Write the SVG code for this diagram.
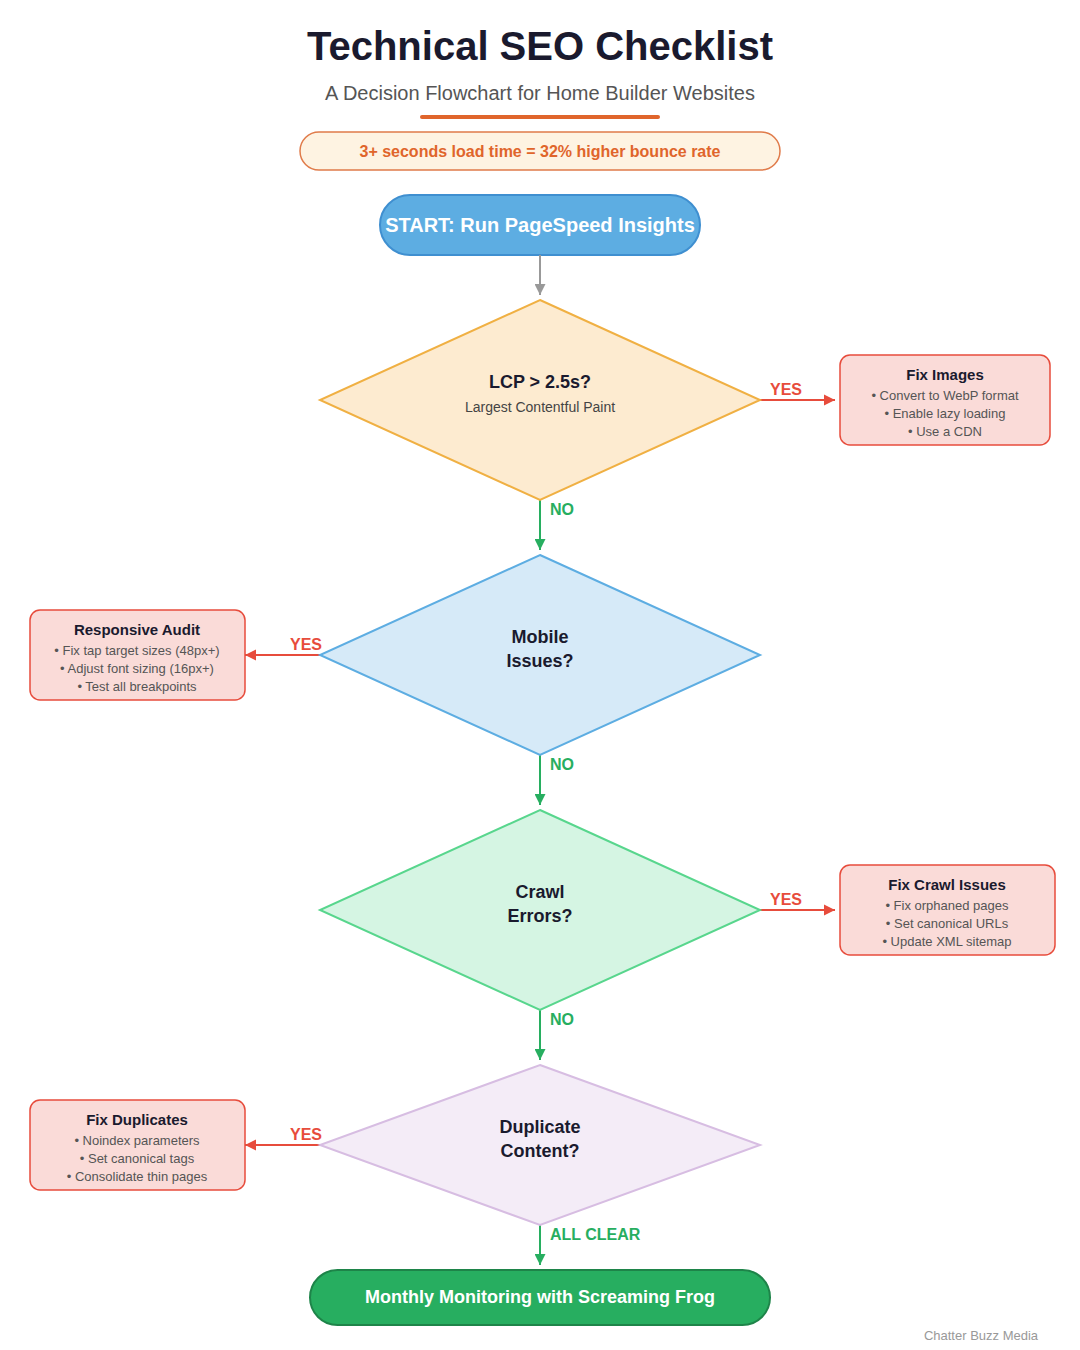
<svg xmlns="http://www.w3.org/2000/svg" width="1080" height="1350" viewBox="0 0 1080 1350">
<defs>
<marker id="ag" viewBox="0 0 10 10" refX="10" refY="5" markerWidth="12" markerHeight="11" markerUnits="userSpaceOnUse" orient="auto"><path d="M0,0 L10,5 L0,10 z" fill="#999999"/></marker>
<marker id="agr" viewBox="0 0 10 10" refX="10" refY="5" markerWidth="12" markerHeight="11" markerUnits="userSpaceOnUse" orient="auto"><path d="M0,0 L10,5 L0,10 z" fill="#27ae60"/></marker>
<marker id="ar" viewBox="0 0 10 10" refX="10" refY="5" markerWidth="11" markerHeight="12" markerUnits="userSpaceOnUse" orient="auto"><path d="M0,0 L10,5 L0,10 z" fill="#e74c3c"/></marker>
</defs>
<style>
text{font-family:"Liberation Sans",Arial,sans-serif;text-anchor:middle}
.box{fill:#fadbd8;stroke:#e74c3c;stroke-width:1.5}
.bt{font-size:15px;font-weight:bold;fill:#1a1a2e}
.bl{font-size:13px;fill:#555555}
.dt{font-size:18px;font-weight:bold;fill:#1a1a2e}
.yes{font-size:16px;font-weight:bold;fill:#e74c3c}
.no{font-size:16px;font-weight:bold;fill:#27ae60;text-anchor:start}
.red{stroke:#e74c3c;stroke-width:2;fill:none}
.grn{stroke:#27ae60;stroke-width:2;fill:none}
</style>
<rect width="1080" height="1350" fill="#ffffff"/>
<g id="header">
<text x="540" y="60" font-size="40" font-weight="bold" fill="#1a1a2e">Technical SEO Checklist</text>
<text x="540" y="100" font-size="20" fill="#555555">A Decision Flowchart for Home Builder Websites</text>
<line x1="422" y1="117" x2="658" y2="117" stroke="#e0652b" stroke-width="4" stroke-linecap="round"/>
</g>
<g id="stat">
<rect x="300" y="132" width="480" height="38" rx="19" fill="#fef3e2" stroke="#e07b4a" stroke-width="1.5"/>
<text x="540" y="157" font-size="16" font-weight="bold" fill="#e0652b">3+ seconds load time = 32% higher bounce rate</text>
</g>
<g id="start">
<rect x="380" y="195" width="320" height="60" rx="30" fill="#5dade2" stroke="#3f8fd0" stroke-width="2"/>
<text x="540" y="232" font-size="20" font-weight="bold" fill="#ffffff">START: Run PageSpeed Insights</text>
</g>
<g id="connectors">
<line x1="540" y1="255" x2="540" y2="295" stroke="#999999" stroke-width="2" marker-end="url(#ag)"/>
<line x1="760" y1="400" x2="835" y2="400" class="red" marker-end="url(#ar)"/>
<text x="786" y="395" class="yes">YES</text>
<line x1="540" y1="500" x2="540" y2="550" class="grn" marker-end="url(#agr)"/>
<text x="550" y="515" class="no">NO</text>
<line x1="320" y1="655" x2="245" y2="655" class="red" marker-end="url(#ar)"/>
<text x="306" y="650" class="yes">YES</text>
<line x1="540" y1="755" x2="540" y2="805" class="grn" marker-end="url(#agr)"/>
<text x="550" y="770" class="no">NO</text>
<line x1="760" y1="910" x2="835" y2="910" class="red" marker-end="url(#ar)"/>
<text x="786" y="905" class="yes">YES</text>
<line x1="540" y1="1010" x2="540" y2="1060" class="grn" marker-end="url(#agr)"/>
<text x="550" y="1025" class="no">NO</text>
<line x1="320" y1="1145" x2="245" y2="1145" class="red" marker-end="url(#ar)"/>
<text x="306" y="1140" class="yes">YES</text>
<line x1="540" y1="1225" x2="540" y2="1265" class="grn" marker-end="url(#agr)"/>
<text x="550" y="1240" class="no">ALL CLEAR</text>
</g>
<g id="lcp">
<polygon points="540,300 760,400 540,500 320,400" fill="#fdebd0" stroke="#f0b043" stroke-width="2"/>
<text x="540" y="388" class="dt">LCP &gt; 2.5s?</text>
<text x="540" y="412" font-size="14" fill="#444444">Largest Contentful Paint</text>
</g>
<g id="fix-images">
<rect x="840" y="355" width="210" height="90" rx="10" class="box"/>
<text x="945" y="380" class="bt">Fix Images</text>
<text x="945" y="400" class="bl">• Convert to WebP format</text>
<text x="945" y="418" class="bl">• Enable lazy loading</text>
<text x="945" y="436" class="bl">• Use a CDN</text>
</g>
<g id="mobile">
<polygon points="540,555 760,655 540,755 320,655" fill="#d6eaf8" stroke="#5dade2" stroke-width="2"/>
<text x="540" y="643" class="dt">Mobile</text>
<text x="540" y="667" class="dt">Issues?</text>
</g>
<g id="responsive-audit">
<rect x="30" y="610" width="215" height="90" rx="10" class="box"/>
<text x="137" y="635" class="bt">Responsive Audit</text>
<text x="137" y="655" class="bl">• Fix tap target sizes (48px+)</text>
<text x="137" y="673" class="bl">• Adjust font sizing (16px+)</text>
<text x="137" y="691" class="bl">• Test all breakpoints</text>
</g>
<g id="crawl">
<polygon points="540,810 760,910 540,1010 320,910" fill="#d5f5e3" stroke="#58d68d" stroke-width="2"/>
<text x="540" y="898" class="dt">Crawl</text>
<text x="540" y="922" class="dt">Errors?</text>
</g>
<g id="fix-crawl">
<rect x="840" y="865" width="215" height="90" rx="10" class="box"/>
<text x="947" y="890" class="bt">Fix Crawl Issues</text>
<text x="947" y="910" class="bl">• Fix orphaned pages</text>
<text x="947" y="928" class="bl">• Set canonical URLs</text>
<text x="947" y="946" class="bl">• Update XML sitemap</text>
</g>
<g id="duplicate">
<polygon points="540,1065 760,1145 540,1225 320,1145" fill="#f4ecf7" stroke="#d7bde2" stroke-width="2"/>
<text x="540" y="1133" class="dt">Duplicate</text>
<text x="540" y="1157" class="dt">Content?</text>
</g>
<g id="fix-duplicates">
<rect x="30" y="1100" width="215" height="90" rx="10" class="box"/>
<text x="137" y="1125" class="bt">Fix Duplicates</text>
<text x="137" y="1145" class="bl">• Noindex parameters</text>
<text x="137" y="1163" class="bl">• Set canonical tags</text>
<text x="137" y="1181" class="bl">• Consolidate thin pages</text>
</g>
<g id="end">
<rect x="310" y="1270" width="460" height="55" rx="27.5" fill="#27ae60" stroke="#1e8449" stroke-width="2"/>
<text x="540" y="1303" font-size="18" font-weight="bold" fill="#ffffff">Monthly Monitoring with Screaming Frog</text>
</g>
<text x="981" y="1340" font-size="13" fill="#999999">Chatter Buzz Media</text>
</svg>
